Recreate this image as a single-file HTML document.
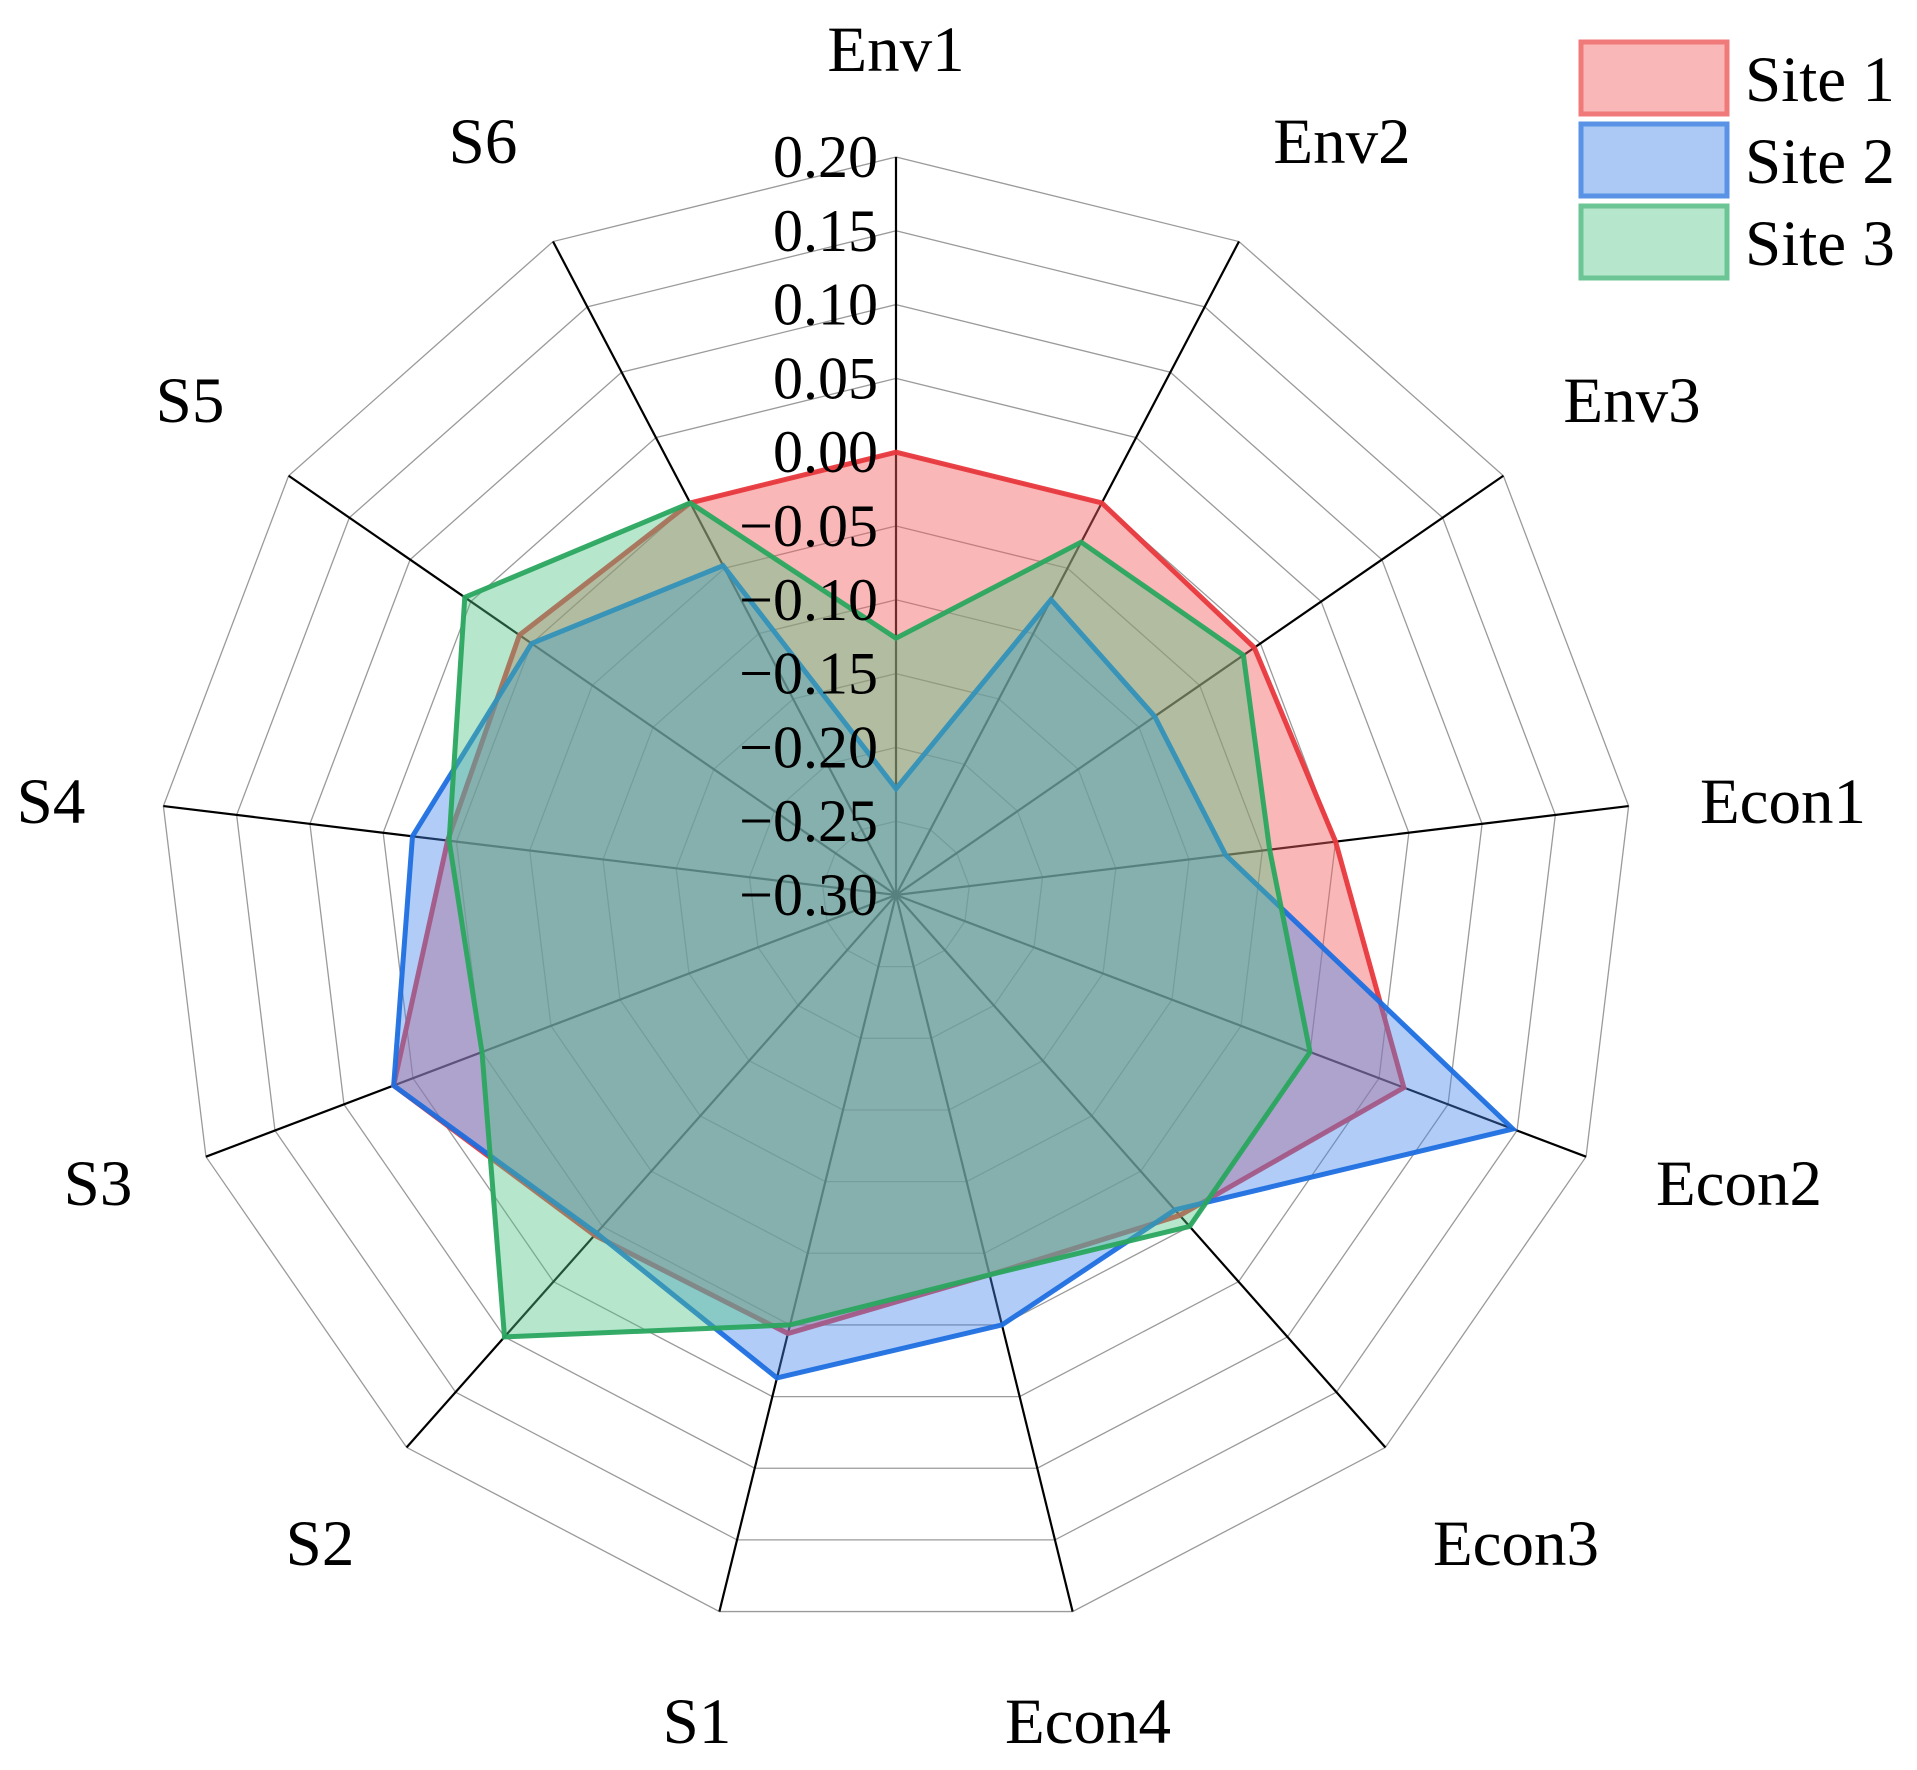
<!DOCTYPE html>
<html><head><meta charset="utf-8"><style>
html,body{margin:0;padding:0;background:#fff;}
svg{display:block;}
text{font-family:"Liberation Serif",serif;fill:#000;}
</style></head><body>
<svg id="chart" width="1917" height="1770" viewBox="0 0 1917 1770" xmlns="http://www.w3.org/2000/svg">
<g id="grid"></g>
<g id="series"></g>
<g id="ticks"></g>
<g id="labels"></g>
<g id="legend"></g>
</svg>
<script>
const categories = ["Env1","Env2","Env3","Econ1","Econ2","Econ3","Econ4","S1","S2","S3","S4","S5","S6"];
const site1 = [0.00, 0.00, -0.005, 0.00, 0.068, -0.01, -0.035, 0.006, 0.008, 0.064, 0.006, 0.01, 0.00];
const site2 = [-0.228, -0.074, -0.087, -0.075, 0.147, -0.015, 0.00, 0.037, 0.006, 0.064, 0.03, 0.00, -0.048];
const site3 = [-0.126, -0.03, -0.014, -0.045, 0.00, 0.00, -0.035, 0.00, 0.10, 0.00, 0.005, 0.055, 0.00];
const tickValues = [-0.30,-0.25,-0.20,-0.15,-0.10,-0.05,0.00,0.05,0.10,0.15,0.20];
const tickLabels = ["\u22120.30","\u22120.25","\u22120.20","\u22120.15","\u22120.10","\u22120.05","0.00","0.05","0.10","0.15","0.20"];
const seriesNames = ["Site 1","Site 2","Site 3"];

const NS="http://www.w3.org/2000/svg";
const cx=896, cy=895, R=738, vmin=-0.30, vmax=0.20;
const N=categories.length;
// label layout (screen positions of label centres, not data)
const labelLayout=[[896,49],[1342,141],[1632,400],[1783,801],[1739,1183],[1516,1543],[1088,1721],[697,1721],[320,1543],[98,1183],[51,801],[190,400],[483,141]];
function ang(i){return i*2*Math.PI/N;}
function rad(v){return (v-vmin)/(vmax-vmin)*R;}
function pt(i,v){const a=ang(i),r=rad(v);return [cx+r*Math.sin(a), cy-r*Math.cos(a)];}
function mk(tag,attrs,parent){const e=document.createElementNS(NS,tag);for(const k in attrs)e.setAttribute(k,attrs[k]);parent.appendChild(e);return e;}

const grid=document.getElementById('grid');
tickValues.forEach((t,k)=>{
  if(k===0)return;
  const pts=categories.map((c,i)=>pt(i,t).join(',')).join(' ');
  const p=mk('polygon',{points:pts,fill:'none',stroke:'#9a9a9a','stroke-width':1.3},grid);
  
  
});
categories.forEach((c,i)=>{
  const e=pt(i,vmax);
  const l=mk('line',{x1:cx,y1:cy,x2:e[0],y2:e[1],stroke:'#000','stroke-width':2.2},grid);
  
  
});

const sg=document.getElementById('series');
const styles=[
  {fill:'rgba(242,95,95,0.45)',stroke:'#e8383d'},
  {fill:'rgba(70,135,235,0.42)',stroke:'#1f6fe0'},
  {fill:'rgba(80,195,130,0.42)',stroke:'#2aa65f'}
];
[site1,site2,site3].forEach((s,k)=>{
  const pts=s.map((v,i)=>pt(i,v).join(',')).join(' ');
  const p=mk('polygon',{points:pts,fill:styles[k].fill,stroke:styles[k].stroke,'stroke-width':5,'stroke-linejoin':'miter','stroke-opacity':0.95},sg);
  
  
});

const tg=document.getElementById('ticks');
tickValues.forEach((t,k)=>{
  const y=cy-rad(t);
  const tx=mk('text',{x:cx-18,y:y+20,'text-anchor':'end','font-size':60},tg);
  tx.textContent=tickLabels[k];
  
  
});

const lg=document.getElementById('labels');
categories.forEach((c,i)=>{
  const p=labelLayout[i];
  const tx=mk('text',{x:p[0],y:p[1]+22,'text-anchor':'middle','font-size':65},lg);
  tx.textContent=c;
  
  
});

const leg=document.getElementById('legend');
const legFill=['rgba(242,95,95,0.45)','rgba(70,135,235,0.45)','rgba(80,195,130,0.42)'];
const legStroke=['#f07a7a','#5a93e6','#6cc594'];
seriesNames.forEach((n,k)=>{
  const y0=42+k*82;
  const r=mk('rect',{x:1581,y:y0,width:146,height:72,fill:legFill[k],stroke:legStroke[k],'stroke-width':5},leg);
  
  
  const t=mk('text',{x:1745,y:y0+59,'font-size':65},leg);
  t.textContent=n;
  
  
});
</script>
</body></html>
